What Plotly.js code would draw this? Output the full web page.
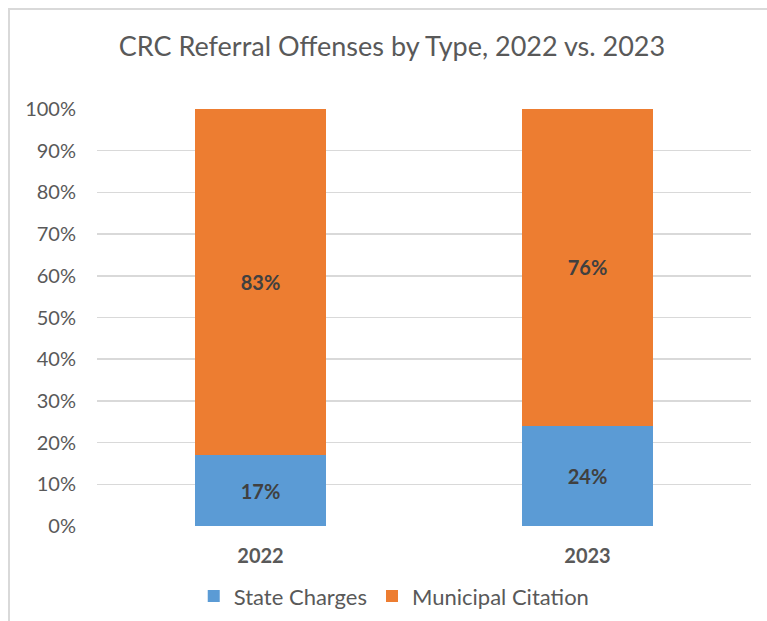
<!DOCTYPE html>
<html>
<head>
<meta charset="utf-8">
<script src="https://cdn.plot.ly/plotly-3.0.1.min.js"></script>
<style>
  html, body { margin: 0; padding: 0; background: #ffffff; }
  #wrap { position: relative; width: 767px; height: 621px; overflow: hidden; }
  #frame { position: absolute; left: 8px; top: 8px; width: 800px; height: 700px;
           border-left: 2px solid #D9D9D9; border-top: 2px solid #D9D9D9; box-sizing: border-box; }
  #chart { position: absolute; left: 0; top: 0; width: 767px; height: 621px; }
</style>
</head>
<body>
<div id="wrap">
  <div id="frame"></div>
  <div id="chart"></div>
</div>
<script>
const years = ['2022', '2023'];
const stateCharges = [17, 24];
const municipalCitation = [83, 76];
const seriesNames = ['State Charges', 'Municipal Citation'];
const yTicks = [0, 10, 20, 30, 40, 50, 60, 70, 80, 90, 100];
const yTickLabels = ['0%', '10%', '20%', '30%', '40%', '50%', '60%', '70%', '80%', '90%', '100%'];

const FONT = 'Lato, "Open Sans", sans-serif';
const pct = v => v + '%';

const labelFont = { family: FONT, size: 20, color: '#404040', weight: 'bold' };

const traces = [
  {
    type: 'bar', name: seriesNames[0], x: years, y: stateCharges,
    marker: { color: '#5B9BD5' },
    text: stateCharges.map(pct), textposition: 'inside', insidetextanchor: 'middle',
    textfont: labelFont, hoverinfo: 'skip'
  },
  {
    type: 'bar', name: seriesNames[1], x: years, y: municipalCitation,
    marker: { color: '#ED7D31' },
    text: municipalCitation.map(pct), textposition: 'inside', insidetextanchor: 'middle',
    textfont: labelFont, hoverinfo: 'skip'
  }
];

const layout = {
  width: 767, height: 621,
  paper_bgcolor: 'rgba(0,0,0,0)', plot_bgcolor: 'rgba(0,0,0,0)',
  margin: { l: 97, r: 16, t: 109, b: 95 },
  barmode: 'stack', bargap: 0.6,
  title: {
    text: 'CRC Referral Offenses by Type, 2022 vs. 2023',
    font: { family: FONT, size: 27, color: '#595959' },
    x: 0.511, xanchor: 'center', y: 0.925, yanchor: 'middle'
  },
  xaxis: {
    type: 'category', showgrid: false, zeroline: false, showline: false, ticks: '',
    tickfont: { family: FONT, size: 20, color: '#595959', weight: 'bold' },
    ticklabelstandoff: 16, automargin: false
  },
  yaxis: {
    range: [0, 100], tickmode: 'array', tickvals: yTicks, ticktext: yTickLabels,
    showgrid: true, gridcolor: '#D9D9D9', gridwidth: 1.5, zeroline: false, showline: false,
    tickfont: { family: FONT, size: 20, color: '#595959' },
    ticklabelstandoff: 20, automargin: false
  },
  showlegend: true,
  legend: {
    orientation: 'h', xref: 'container', yref: 'container',
    x: 0.514, xanchor: 'center', y: 0.04, yanchor: 'middle',
    font: { family: FONT, size: 22, color: '#595959' },
    traceorder: 'normal', itemwidth: 30
  }
};

Plotly.newPlot('chart', traces, layout, { displayModeBar: false, staticPlot: true });
</script>
</body>
</html>
